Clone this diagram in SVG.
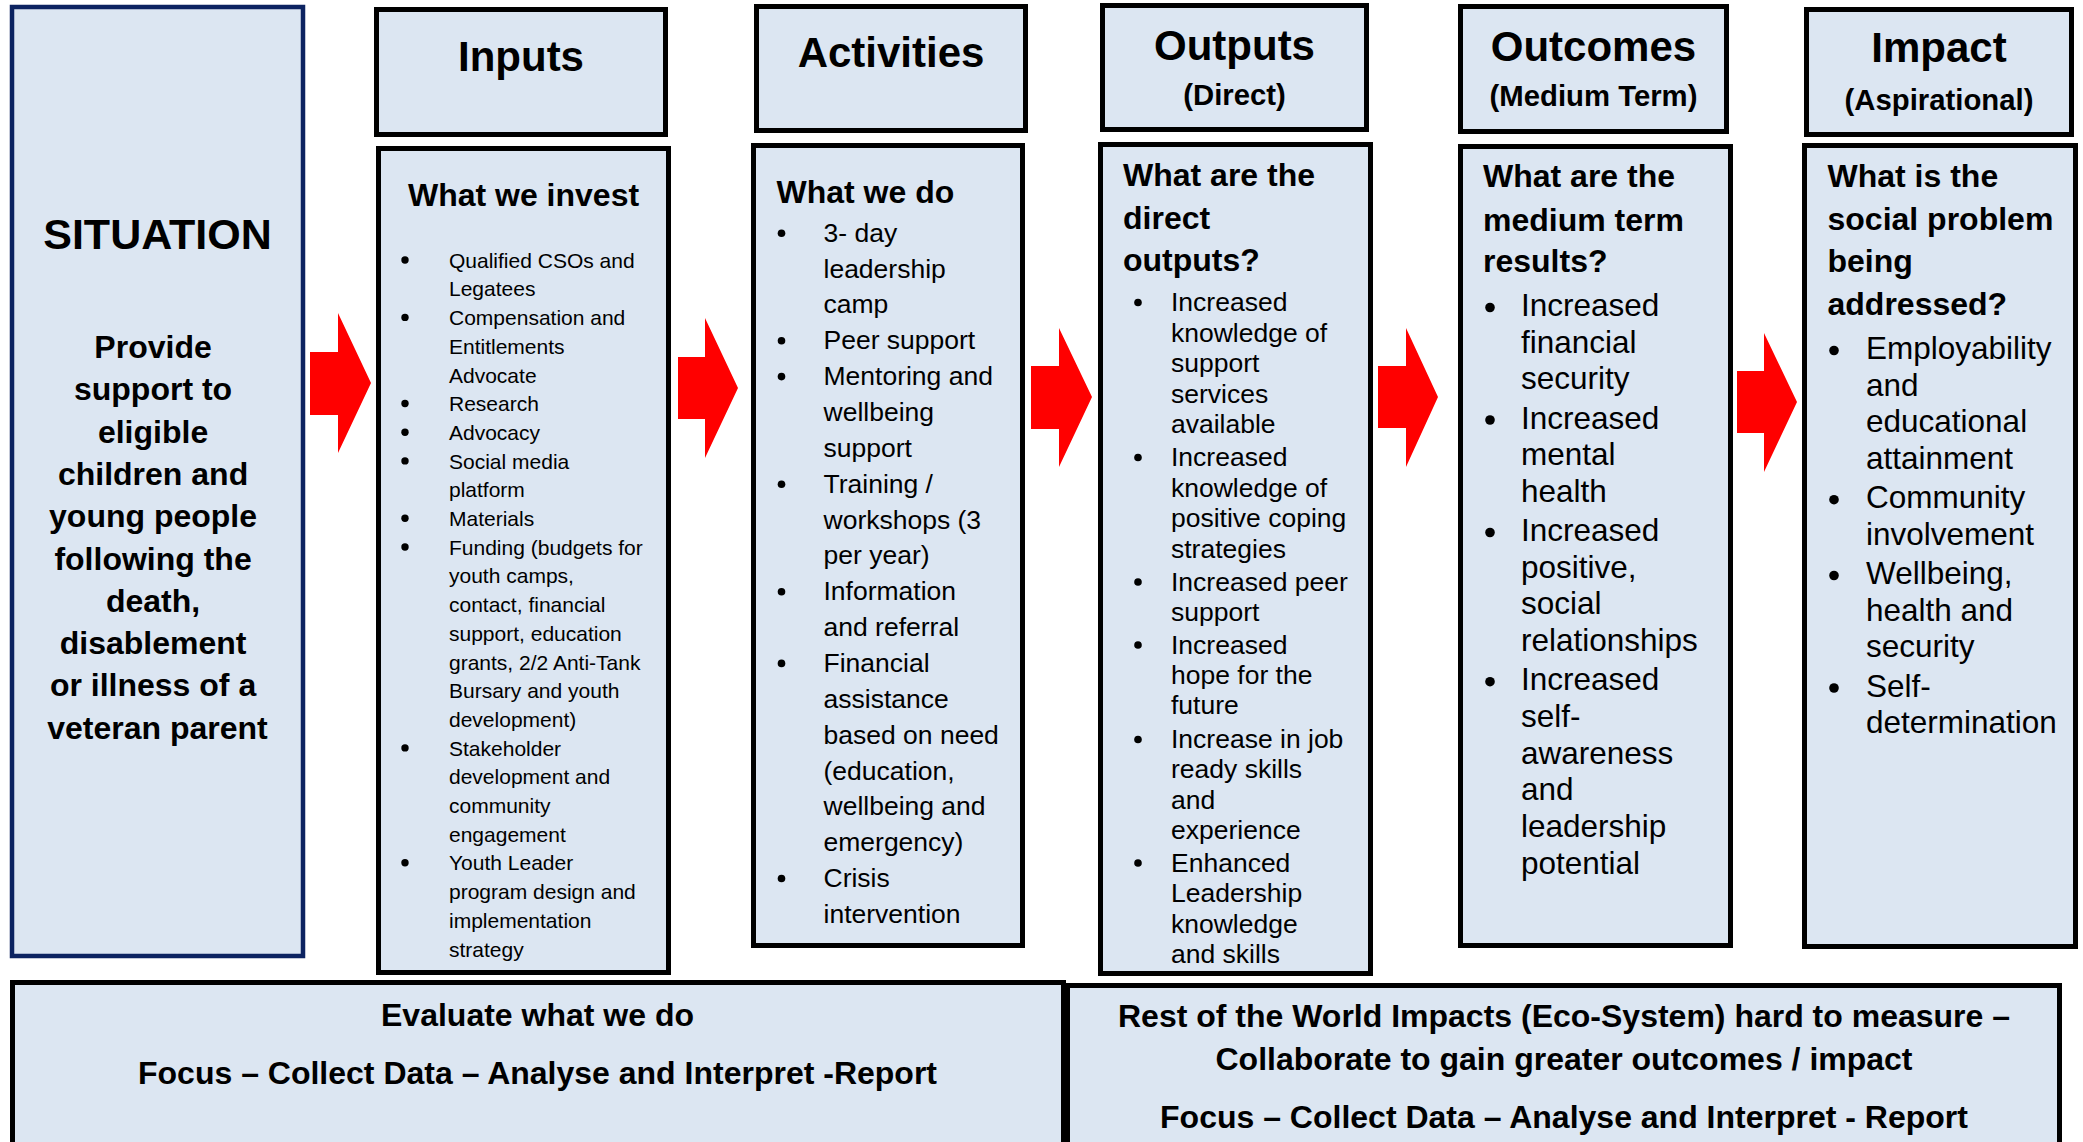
<svg xmlns="http://www.w3.org/2000/svg" width="2083" height="1142" viewBox="0 0 2083 1142">
<style>
text{font-family:"Liberation Sans",Arial,Helvetica,sans-serif;fill:#000}
.box{fill:#DCE6F2;stroke:#000;stroke-width:5}
.sit{fill:#DCE6F2;stroke:#0C2361;stroke-width:4.5}
.h1{font-size:42px;font-weight:bold;text-anchor:middle}
.h2{font-size:29.3px;font-weight:bold;text-anchor:middle}
.t{font-size:32px;font-weight:bold}
.c{text-anchor:middle}
.s21{font-size:21px}
.s26{font-size:26.5px}
.s31{font-size:31.5px}
.b{fill:#000}
.arr{fill:#FF0000}
</style>
<rect width="2083" height="1142" fill="#FFFFFF"/>

<g id="situation">
<rect class="sit" x="12" y="7" width="291" height="949"/>
<text x="157.5" y="249" class="c" font-size="43" font-weight="bold">SITUATION</text>
<text class="t c" x="157.5" y="358">
<tspan x="157.5" y="358">Provide</tspan>
<tspan x="157.5" y="400.3">support to</tspan>
<tspan x="157.5" y="442.6">eligible</tspan>
<tspan x="157.5" y="484.9">children and</tspan>
<tspan x="157.5" y="527.2">young people</tspan>
<tspan x="157.5" y="569.5">following the</tspan>
<tspan x="157.5" y="611.8">death,</tspan>
<tspan x="157.5" y="654.1">disablement</tspan>
<tspan x="157.5" y="696.4">or illness of a</tspan>
<tspan x="157.5" y="738.7">veteran parent</tspan>
</text>
</g>

<g id="inputs-header">
<rect class="box" x="376.5" y="9.5" width="289" height="125"/>
<text class="h1" x="521" y="71">Inputs</text>
</g>

<g id="inputs-body">
<rect class="box" x="378.5" y="148.5" width="290" height="824"/>
<text class="t c" x="523.5" y="206">What we invest</text>
<g class="b">
<circle cx="405" cy="260" r="3.7"/>
<circle cx="405" cy="317.4" r="3.7"/>
<circle cx="405" cy="403.5" r="3.7"/>
<circle cx="405" cy="432.2" r="3.7"/>
<circle cx="405" cy="460.9" r="3.7"/>
<circle cx="405" cy="518.3" r="3.7"/>
<circle cx="405" cy="547" r="3.7"/>
<circle cx="405" cy="747.9" r="3.7"/>
<circle cx="405" cy="862.7" r="3.7"/>
</g>
<text class="s21">
<tspan x="449" y="267.7">Qualified CSOs and</tspan>
<tspan x="449" y="296.4">Legatees</tspan>
<tspan x="449" y="325.1">Compensation and</tspan>
<tspan x="449" y="353.8">Entitlements</tspan>
<tspan x="449" y="382.5">Advocate</tspan>
<tspan x="449" y="411.2">Research</tspan>
<tspan x="449" y="439.9">Advocacy</tspan>
<tspan x="449" y="468.6">Social media</tspan>
<tspan x="449" y="497.3">platform</tspan>
<tspan x="449" y="526">Materials</tspan>
<tspan x="449" y="554.7">Funding (budgets for</tspan>
<tspan x="449" y="583.4">youth camps,</tspan>
<tspan x="449" y="612.1">contact, financial</tspan>
<tspan x="449" y="640.8">support, education</tspan>
<tspan x="449" y="669.5">grants, 2/2 Anti-Tank</tspan>
<tspan x="449" y="698.2">Bursary and youth</tspan>
<tspan x="449" y="726.9">development)</tspan>
<tspan x="449" y="755.6">Stakeholder</tspan>
<tspan x="449" y="784.3">development and</tspan>
<tspan x="449" y="813">community</tspan>
<tspan x="449" y="841.7">engagement</tspan>
<tspan x="449" y="870.4">Youth Leader</tspan>
<tspan x="449" y="899.1">program design and</tspan>
<tspan x="449" y="927.8">implementation</tspan>
<tspan x="449" y="956.5">strategy</tspan>
</text>
</g>

<g id="activities-header">
<rect class="box" x="756.5" y="6.5" width="269" height="124"/>
<text class="h1" x="891" y="67">Activities</text>
</g>

<g id="activities-body">
<rect class="box" x="753.5" y="145.5" width="269" height="800"/>
<text class="t" x="776.5" y="203">What we do</text>
<g class="b">
<circle cx="781.5" cy="233.2" r="3.8"/>
<circle cx="781.5" cy="340.8" r="3.8"/>
<circle cx="781.5" cy="376.6" r="3.8"/>
<circle cx="781.5" cy="484.2" r="3.8"/>
<circle cx="781.5" cy="591.7" r="3.8"/>
<circle cx="781.5" cy="663.4" r="3.8"/>
<circle cx="781.5" cy="878.5" r="3.8"/>
</g>
<text class="s26">
<tspan x="823.5" y="241.7">3- day</tspan>
<tspan x="823.5" y="277.6">leadership</tspan>
<tspan x="823.5" y="313.4">camp</tspan>
<tspan x="823.5" y="349.3">Peer support</tspan>
<tspan x="823.5" y="385.1">Mentoring and</tspan>
<tspan x="823.5" y="421">wellbeing</tspan>
<tspan x="823.5" y="456.8">support</tspan>
<tspan x="823.5" y="492.7">Training /</tspan>
<tspan x="823.5" y="528.5">workshops (3</tspan>
<tspan x="823.5" y="564.4">per year)</tspan>
<tspan x="823.5" y="600.2">Information</tspan>
<tspan x="823.5" y="636.1">and referral</tspan>
<tspan x="823.5" y="671.9">Financial</tspan>
<tspan x="823.5" y="707.8">assistance</tspan>
<tspan x="823.5" y="743.6">based on need</tspan>
<tspan x="823.5" y="779.5">(education,</tspan>
<tspan x="823.5" y="815.3">wellbeing and</tspan>
<tspan x="823.5" y="851.2">emergency)</tspan>
<tspan x="823.5" y="887">Crisis</tspan>
<tspan x="823.5" y="922.9">intervention</tspan>
</text>
</g>

<g id="outputs-header">
<rect class="box" x="1102.5" y="5.5" width="264" height="124"/>
<text class="h1" x="1234.5" y="60">Outputs</text>
<text class="h2" x="1234.5" y="105">(Direct)</text>
</g>

<g id="outputs-body">
<rect class="box" x="1100.5" y="144.5" width="270" height="829"/>
<text class="t">
<tspan x="1123" y="186">What are the</tspan>
<tspan x="1123" y="229">direct</tspan>
<tspan x="1123" y="271">outputs?</tspan>
</text>
<g class="b">
<circle cx="1138" cy="302.5" r="3.8"/>
<circle cx="1138" cy="457.5" r="3.8"/>
<circle cx="1138" cy="582" r="3.8"/>
<circle cx="1138" cy="645" r="3.8"/>
<circle cx="1138" cy="739.5" r="3.8"/>
<circle cx="1138" cy="863" r="3.8"/>
</g>
<text class="s26">
<tspan x="1171" y="311">Increased</tspan>
<tspan x="1171" y="341.5">knowledge of</tspan>
<tspan x="1171" y="372">support</tspan>
<tspan x="1171" y="402.5">services</tspan>
<tspan x="1171" y="433">available</tspan>
<tspan x="1171" y="466">Increased</tspan>
<tspan x="1171" y="496.5">knowledge of</tspan>
<tspan x="1171" y="527">positive coping</tspan>
<tspan x="1171" y="557.5">strategies</tspan>
<tspan x="1171" y="590.5">Increased peer</tspan>
<tspan x="1171" y="620.5">support</tspan>
<tspan x="1171" y="653.5">Increased</tspan>
<tspan x="1171" y="684">hope for the</tspan>
<tspan x="1171" y="714">future</tspan>
<tspan x="1171" y="748">Increase in job</tspan>
<tspan x="1171" y="778">ready skills</tspan>
<tspan x="1171" y="808.5">and</tspan>
<tspan x="1171" y="839">experience</tspan>
<tspan x="1171" y="871.5">Enhanced</tspan>
<tspan x="1171" y="902">Leadership</tspan>
<tspan x="1171" y="932.5">knowledge</tspan>
<tspan x="1171" y="963">and skills</tspan>
</text>
</g>

<g id="outcomes-header">
<rect class="box" x="1460.5" y="6.5" width="266" height="125"/>
<text class="h1" x="1593.5" y="61">Outcomes</text>
<text class="h2" x="1593.5" y="106">(Medium Term)</text>
</g>

<g id="outcomes-body">
<rect class="box" x="1460.5" y="146.5" width="270" height="799"/>
<text class="t">
<tspan x="1483" y="187">What are the</tspan>
<tspan x="1483" y="230.5">medium term</tspan>
<tspan x="1483" y="272">results?</tspan>
</text>
<g class="b">
<circle cx="1490" cy="307.5" r="4.8"/>
<circle cx="1490" cy="420" r="4.8"/>
<circle cx="1490" cy="532.5" r="4.8"/>
<circle cx="1490" cy="681.7" r="4.8"/>
</g>
<text class="s31">
<tspan x="1521" y="316">Increased</tspan>
<tspan x="1521" y="352.7">financial</tspan>
<tspan x="1521" y="389.4">security</tspan>
<tspan x="1521" y="428.5">Increased</tspan>
<tspan x="1521" y="465.2">mental</tspan>
<tspan x="1521" y="501.9">health</tspan>
<tspan x="1521" y="541">Increased</tspan>
<tspan x="1521" y="577.7">positive,</tspan>
<tspan x="1521" y="614.4">social</tspan>
<tspan x="1521" y="651.1">relationships</tspan>
<tspan x="1521" y="690.2">Increased</tspan>
<tspan x="1521" y="726.9">self-</tspan>
<tspan x="1521" y="763.6">awareness</tspan>
<tspan x="1521" y="800.3">and</tspan>
<tspan x="1521" y="837">leadership</tspan>
<tspan x="1521" y="873.7">potential</tspan>
</text>
</g>

<g id="impact-header">
<rect class="box" x="1806.5" y="9.5" width="265" height="125"/>
<text class="h1" x="1939" y="62">Impact</text>
<text class="h2" x="1939" y="110" font-size="32">(Aspirational)</text>
</g>

<g id="impact-body">
<rect class="box" x="1804.5" y="145.5" width="271" height="801"/>
<text class="t">
<tspan x="1827.5" y="187">What is the</tspan>
<tspan x="1827.5" y="229.5">social problem</tspan>
<tspan x="1827.5" y="272">being</tspan>
<tspan x="1827.5" y="314.5">addressed?</tspan>
</text>
<g class="b">
<circle cx="1834" cy="350.5" r="4.8"/>
<circle cx="1834" cy="499.7" r="4.8"/>
<circle cx="1834" cy="575.5" r="4.8"/>
<circle cx="1834" cy="688" r="4.8"/>
</g>
<text class="s31">
<tspan x="1866" y="359">Employability</tspan>
<tspan x="1866" y="395.7">and</tspan>
<tspan x="1866" y="432.4">educational</tspan>
<tspan x="1866" y="469.1">attainment</tspan>
<tspan x="1866" y="508.2">Community</tspan>
<tspan x="1866" y="544.9">involvement</tspan>
<tspan x="1866" y="584">Wellbeing,</tspan>
<tspan x="1866" y="620.7">health and</tspan>
<tspan x="1866" y="657.4">security</tspan>
<tspan x="1866" y="696.5">Self-</tspan>
<tspan x="1866" y="733.2">determination</tspan>
</text>
</g>

<g id="evaluate">
<rect class="box" x="12.5" y="982.5" width="1051" height="180"/>
<text class="t c" x="537.5" y="1026">Evaluate what we do</text>
<text class="t c" x="537.5" y="1084">Focus – Collect Data – Analyse and Interpret -Report</text>
</g>

<g id="rest-of-world">
<rect class="box" x="1067.5" y="985.5" width="992" height="180"/>
<text class="t c" x="1564" y="1027">Rest of the World Impacts (Eco-System) hard to measure –</text>
<text class="t c" x="1564" y="1070">Collaborate to gain greater outcomes / impact</text>
<text class="t c" x="1564" y="1128">Focus – Collect Data – Analyse and Interpret - Report</text>
</g>

<g id="connectors">
<polygon class="arr" points="310,352 338,352 338,313 371,383 338,453 338,415 310,415"/>
<polygon class="arr" points="678,357 705,357 705,318 738,388 705,458 705,419 678,419"/>
<polygon class="arr" points="1031,366 1059,366 1059,328 1092,397 1059,467 1059,429 1031,429"/>
<polygon class="arr" points="1378,366 1406,366 1406,328 1438,397 1406,467 1406,428 1378,428"/>
<polygon class="arr" points="1737,371 1764,371 1764,333 1797,402 1764,472 1764,433 1737,433"/>
</g>
</svg>
